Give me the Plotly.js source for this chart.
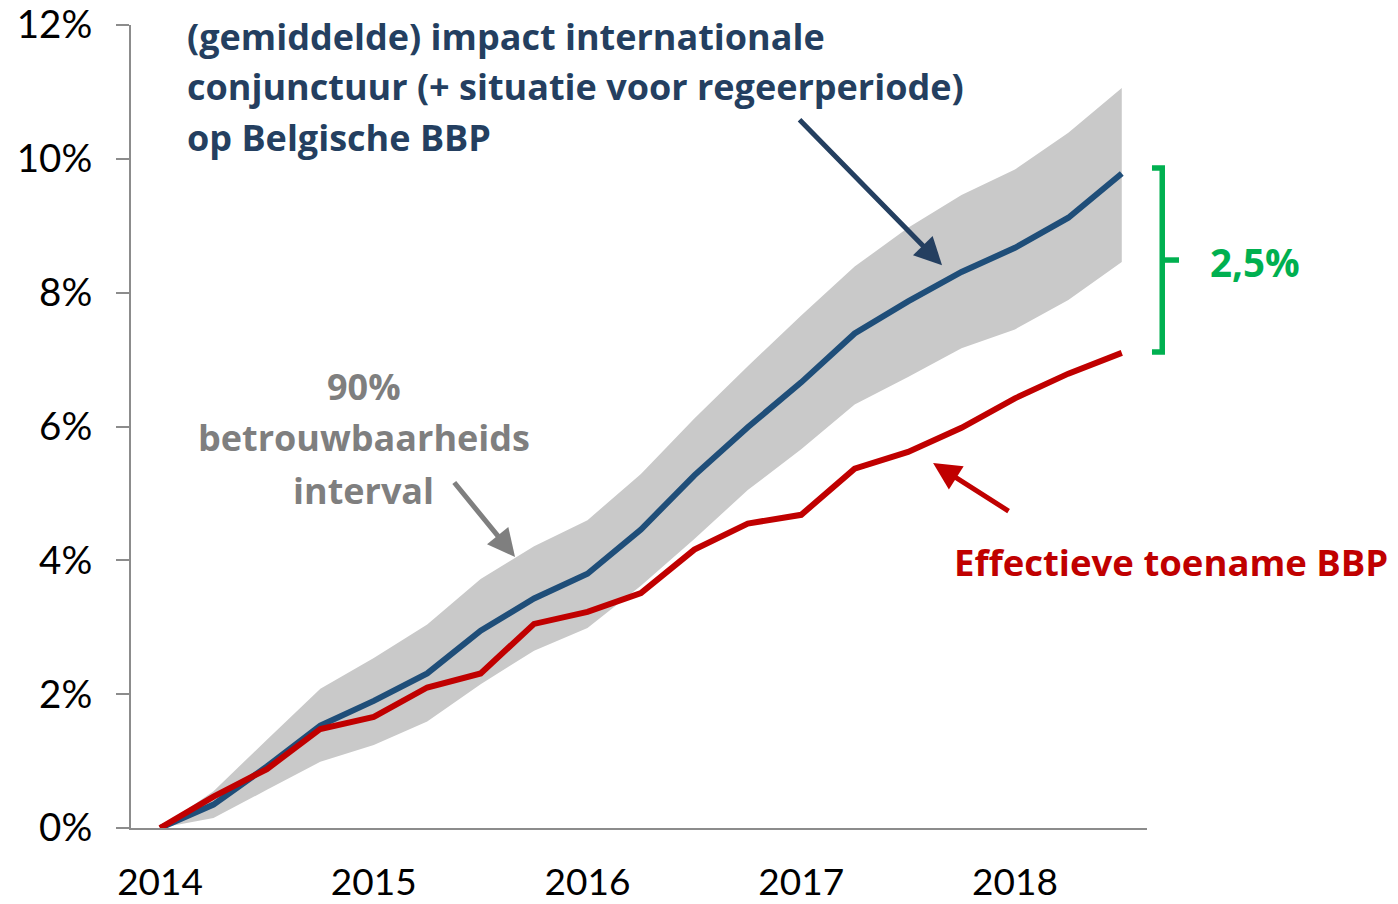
<!DOCTYPE html>
<html>
<head>
<meta charset="utf-8">
<script src="https://cdn.plot.ly/plotly-3.0.1.min.js"></script>
<style>
html,body{margin:0;padding:0;background:#fff;}
#chart{width:1398px;height:904px;}
</style>
</head>
<body>
<div id="chart"></div>
<script>
// Quarterly observation points (decimal years)
var quarters = [2014.00, 2014.25, 2014.50, 2014.75, 2015.00, 2015.25, 2015.50, 2015.75,
                2016.00, 2016.25, 2016.50, 2016.75, 2017.00, 2017.25, 2017.50, 2017.75,
                2018.00, 2018.25, 2018.50];

// (gemiddelde) impact internationale conjunctuur, cumulative %
var impactMean = [0, 0.35, 0.92, 1.53, 1.90, 2.31, 2.95, 3.43, 3.80, 4.46, 5.27, 5.99,
                  6.66, 7.39, 7.87, 8.31, 8.67, 9.12, 9.78];
// 90% betrouwbaarheidsinterval
var bandUpper = [0, 0.55, 1.32, 2.08, 2.54, 3.04, 3.72, 4.21, 4.60, 5.29, 6.12, 6.90,
                 7.66, 8.39, 8.97, 9.46, 9.84, 10.39, 11.06];
var bandLower = [0, 0.15, 0.57, 0.99, 1.24, 1.59, 2.15, 2.65, 2.99, 3.62, 4.32, 5.05,
                 5.66, 6.33, 6.74, 7.17, 7.45, 7.89, 8.46];
// Effectieve toename BBP, cumulative %
var actualGDP = [0, 0.47, 0.88, 1.48, 1.66, 2.10, 2.31, 3.05, 3.23, 3.51, 4.16, 4.55,
                 4.68, 5.37, 5.62, 5.98, 6.42, 6.79, 7.10];

var yearTicks = [2014, 2015, 2016, 2017, 2018];
var yearLabels = ['2014', '2015', '2016', '2017', '2018'];
var yTicks = [0, 2, 4, 6, 8, 10, 12];
var yLabels = ['0%', '2%', '4%', '6%', '8%', '10%', '12%'];

var traces = [
  {x: quarters, y: bandLower, type: 'scatter', mode: 'lines',
   line: {width: 0, color: 'rgba(0,0,0,0)'}, hoverinfo: 'skip', showlegend: false},
  {x: quarters, y: bandUpper, type: 'scatter', mode: 'lines', fill: 'tonexty',
   fillcolor: '#c9c9c9', line: {width: 0, color: 'rgba(0,0,0,0)'}, showlegend: false},
  {x: quarters, y: impactMean, type: 'scatter', mode: 'lines',
   line: {width: 6, color: '#1f4e79'}, showlegend: false},
  {x: quarters, y: actualGDP, type: 'scatter', mode: 'lines',
   line: {width: 6, color: '#c00000'}, showlegend: false}
];

var TF = 'Lato, "Open Sans", sans-serif';
var F = '"Open Sans", Lato, sans-serif';
var navy = '#243f60';
var grey = '#7f7f7f';
var red = '#c00000';
var green = '#00b050';

function txt(text, x, y, color, size, xanchor) {
  return {text: text, xref: 'paper', yref: 'paper', x: x, y: y, xanchor: xanchor || 'left',
          yanchor: 'middle', showarrow: false, font: {family: F, size: size, color: color, weight: 700}};
}
function arrow(x, y, ax, ay, color, w) {
  return {text: '', x: x, y: y, xref: 'x', yref: 'y', ax: ax, ay: ay, showarrow: true,
          arrowhead: 2, arrowsize: 1.1, arrowwidth: w, arrowcolor: color, standoff: 0, startstandoff: 0};
}

var annotations = [
  txt('(gemiddelde) impact internationale', 0.0531, 0.9863, navy, 36),
  txt('conjunctuur (+ situatie voor regeerperiode)', 0.0531, 0.9228, navy, 36),
  txt('op Belgische BBP', 0.0531, 0.8593, navy, 36),
  txt('90%', 0.2293, 0.5504, grey, 36, 'center'),
  txt('betrouwbaarheids', 0.2293, 0.4857, grey, 36, 'center'),
  txt('interval', 0.2293, 0.4209, grey, 36, 'center'),
  txt('Effectieve toename BBP', 0.8081, 0.3313, red, 36.5),
  txt('2,5%', 1.060, 0.7049, green, 38.5),
  arrow(2017.659, 8.41, -144, -147, navy, 5),
  arrow(2015.661, 4.05, -62, -76, grey, 5),
  arrow(2017.617, 5.454, 77, 49, red, 5)
];

var shapes = [
  {type: 'path', xref: 'paper', yref: 'paper',
   path: 'M 1.0049 0.8219 L 1.0150 0.8219 L 1.0150 0.5928 L 1.0049 0.5928',
   line: {color: green, width: 5.5}},
  {type: 'line', xref: 'paper', yref: 'paper', x0: 1.0150, x1: 1.0315, y0: 0.7073, y1: 0.7073,
   line: {color: green, width: 5.5}}
];

var layout = {
  width: 1398, height: 904,
  margin: {l: 131, r: 251, t: 25, b: 76, pad: 0},
  paper_bgcolor: '#ffffff', plot_bgcolor: '#ffffff',
  showlegend: false,
  xaxis: {range: [2013.864, 2018.618], tickmode: 'array', tickvals: yearTicks, ticktext: yearLabels,
          showgrid: false, zeroline: false, showline: true, linecolor: '#8c8c8c', linewidth: 2,
          ticks: '', ticklabelstandoff: 21, tickfont: {family: TF, size: 37, color: '#000'}},
  yaxis: {range: [0, 12], tickmode: 'array', tickvals: yTicks, ticktext: yLabels,
          showgrid: false, zeroline: false, showline: true, linecolor: '#8c8c8c', linewidth: 2,
          ticks: 'outside', ticklen: 13, tickwidth: 2, tickcolor: '#8c8c8c',
          ticklabelstandoff: 16, tickfont: {family: TF, size: 38.5, color: '#000'}},
  annotations: annotations,
  shapes: shapes
};

Plotly.newPlot('chart', traces, layout, {displayModeBar: false, staticPlot: true});
</script>
</body>
</html>
